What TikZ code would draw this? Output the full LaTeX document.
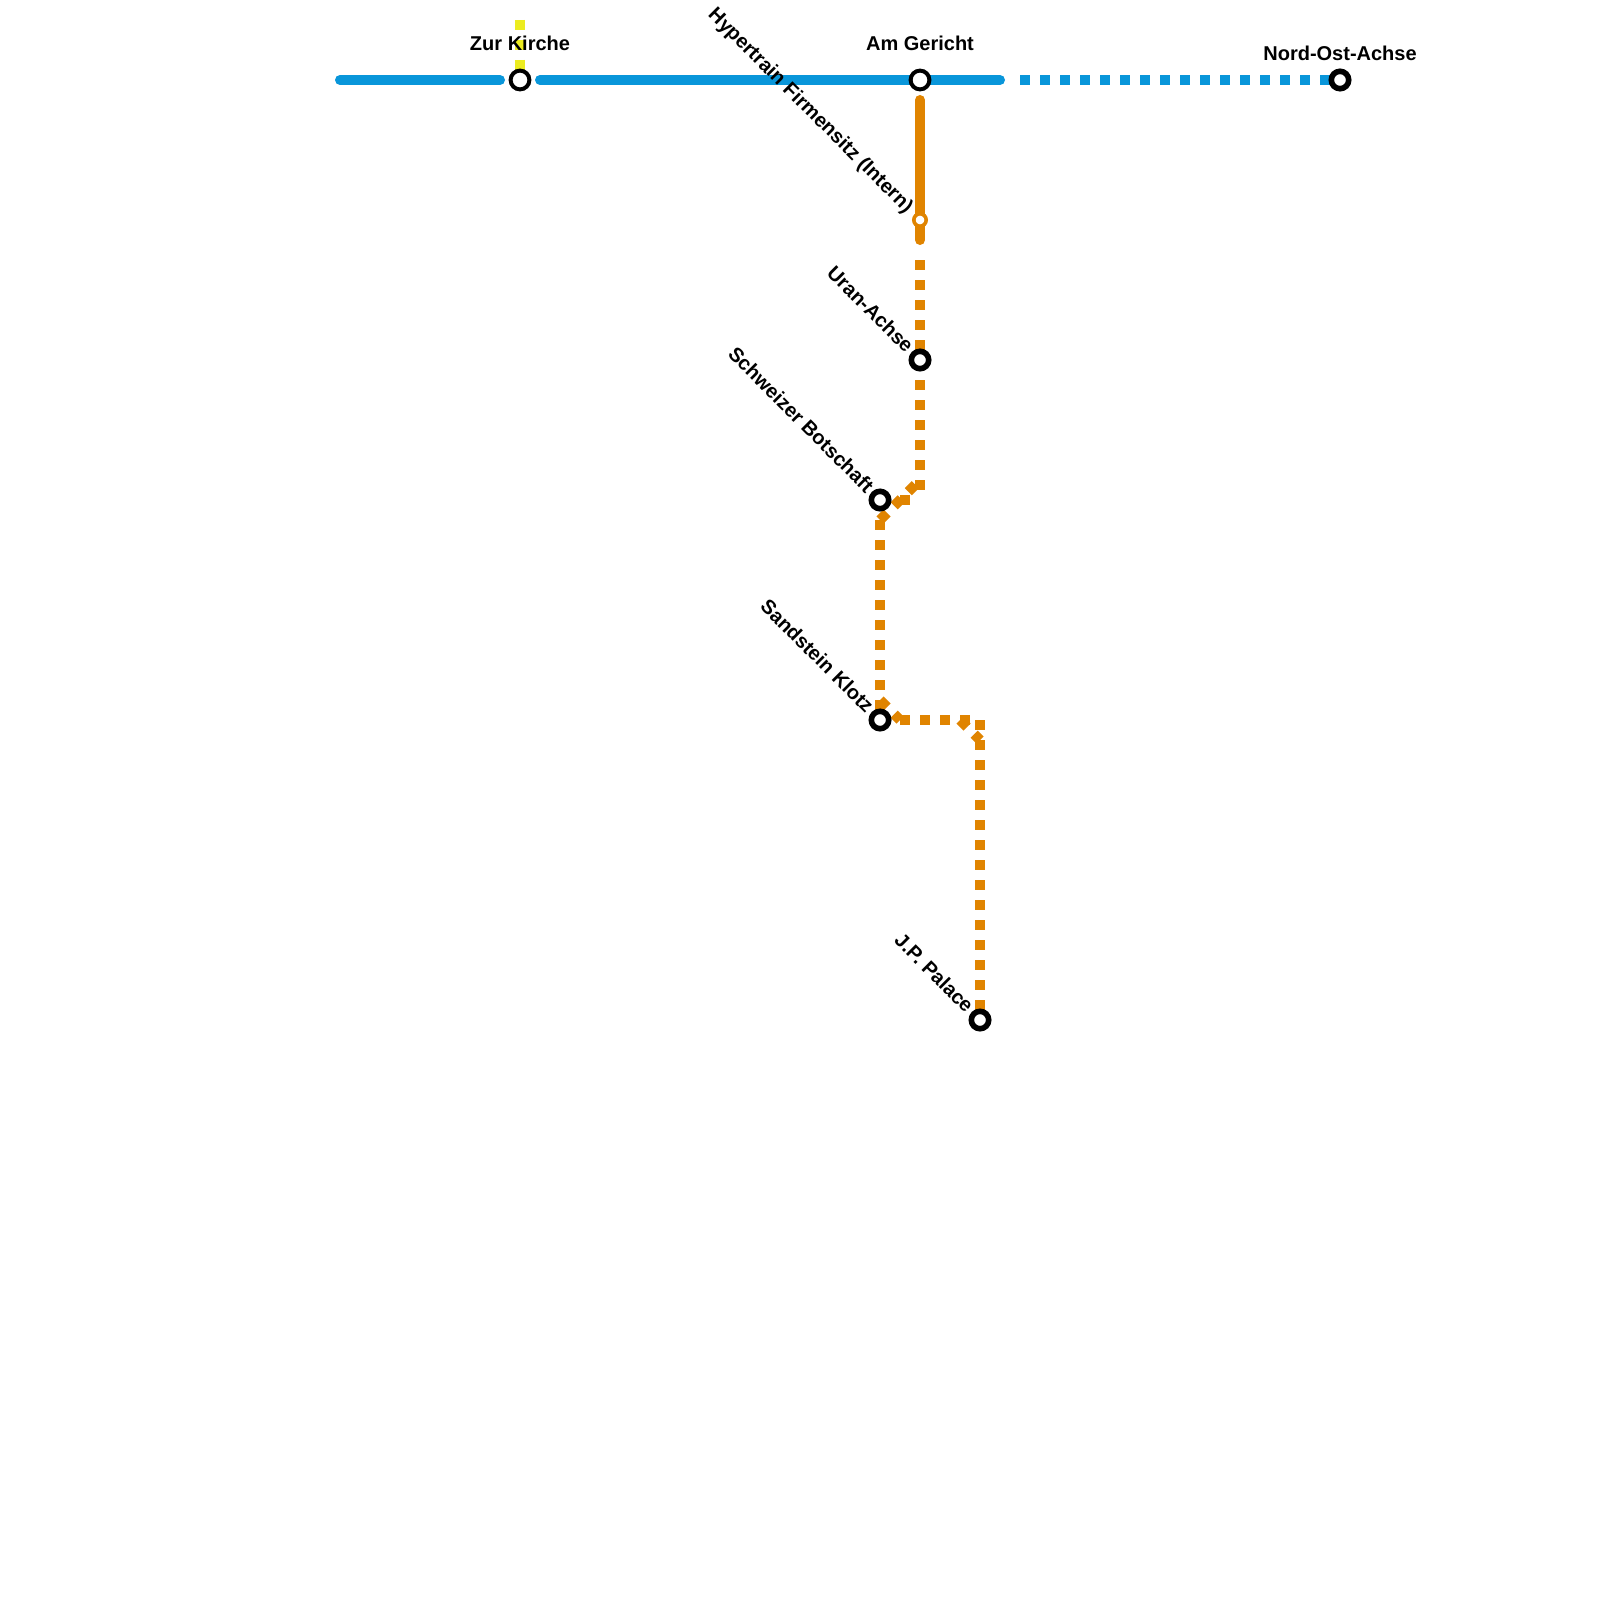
\documentclass[tikz,border=0pt]{standalone}
\usepackage{fontspec}
\setmainfont{Liberation Sans}
\definecolor{lineblue}{RGB}{9,150,218}
\definecolor{lineorange}{RGB}{224,132,0}
\definecolor{lineyellow}{RGB}{236,236,32}
\tikzset{
    % durchgehende Linien
    solidline/.style={line width=10pt,line cap=round},
    % gepunktete Linien
    dashline/.style={line width=10pt,dash pattern=on 10pt off 10pt},
    bigstop/.style={circle,draw=black,fill=white,line width=4pt,minimum size=18.8pt,inner sep=0pt},
    stop/.style={circle,draw=black,fill=white,line width=5.6pt,minimum size=17.4pt,inner sep=0pt},
    minorstop/.style={circle,draw=lineorange,fill=white,line width=3.6pt,minimum size=12.4pt,inner sep=0pt},
    toplabel/.style={font=\fontsize{20}{24}\selectfont\bfseries,black,anchor=base,inner sep=0pt},
    sidelabel/.style={toplabel,anchor=base east,rotate=-45}
}
\begin{document}
\begin{tikzpicture}[x=1pt,y=-1pt]
	\useasboundingbox[fill=white] (0,0) rectangle (1600,1600);
	
	\path
	(520,80) coordinate (kirche)
	(920,80) coordinate (gericht)
	(1340,80) coordinate (nordost)
	(920,220) coordinate (firmensitz)
	(920,360) coordinate (uran)
	(880,500) coordinate (schweizer)
	(880,720) coordinate (sandstein)
	(980,1020) coordinate (palace)
	
	(340,80) coordinate (b1)
	(500,80) coordinate (b2)
	(540,80) coordinate (b3)
	(1000,80) coordinate (b4)
	(1020,80) coordinate (b5)
	(520,20) coordinate (y1)
	(920,100) coordinate (o1)
	(920,240) coordinate (o2)
	(920,260) coordinate (o3)
	(920,490) coordinate (o4)
	(920,480) coordinate (o5)
	(880,520) coordinate (o6)
	(910,500) coordinate (o7)
	(880,700) coordinate (o8)
	(900,720) coordinate (o9)
	(970,720) coordinate (o10)
	(960,720) coordinate (o11)
	(980,740) coordinate (o12)
	(980,720) coordinate (o13);
	
	% gelbe Linie
	\draw[dashline,lineyellow] (y1) to (kirche);
	
	% blaue Linie
	\draw[solidline,lineblue] (b1) to (b2);
	\draw[solidline,lineblue] (b3) to (b4);
	\draw[dashline,lineblue] (b5) to (nordost);
	
	% orange Linie
	\draw[solidline,lineorange] (o1) to (o2);
	\draw[dashline,lineorange] (o3) to (o4);
	\draw[dashline,lineorange] (o6) to (o5);
	\draw[dashline,lineorange] (schweizer) to (o7);
	\draw[dashline,lineorange] (o6) to (sandstein);
	\draw[dashline,lineorange] (o8) to (o9);
	\draw[dashline,lineorange] (sandstein) to (o10);
	\draw[dashline,lineorange] (o11) to (o12);
	\draw[dashline,lineorange] (o13) to (palace);
	
	% Haltestellen
	\node[bigstop] (kirche_s) at (kirche) {};
	\node[bigstop] (gericht_s) at (gericht) {};
	\node[stop] (nordost_s) at (nordost) {};
	\node[minorstop] (firmensitz_s) at (firmensitz) {};
	\node[stop] (uran_s) at (uran) {};
	\node[stop] (schweizer_s) at (schweizer) {};
	\node[stop] (sandstein_s) at (sandstein) {};
	\node[stop] (palace_s) at (palace) {};
	
	% Beschriftung
	\node[toplabel] (kirche_l) at (520,50.8) {Zur Kirche};
	\node[toplabel] (gericht_l) at (920,50.8) {Am Gericht};
	\node[toplabel] (nordost_l) at (1340,60.8) {Nord-Ost-Achse};
	\node[sidelabel] (firmensitz_l) at (905.5,214) {Hypertrain Firmensitz (Intern)};
	\node[sidelabel] (uran_l) at (905.5,354) {Uran-Achse};
	\node[sidelabel] (schweizer_l) at (865.5,494) {Schweizer Botschaft};
	\node[sidelabel] (sandstein_l) at (865.5,714) {Sandstein Klotz};
	\node[sidelabel] (palace_l) at (965.5,1014) {J.P. Palace};
\end{tikzpicture}
\end{document}
